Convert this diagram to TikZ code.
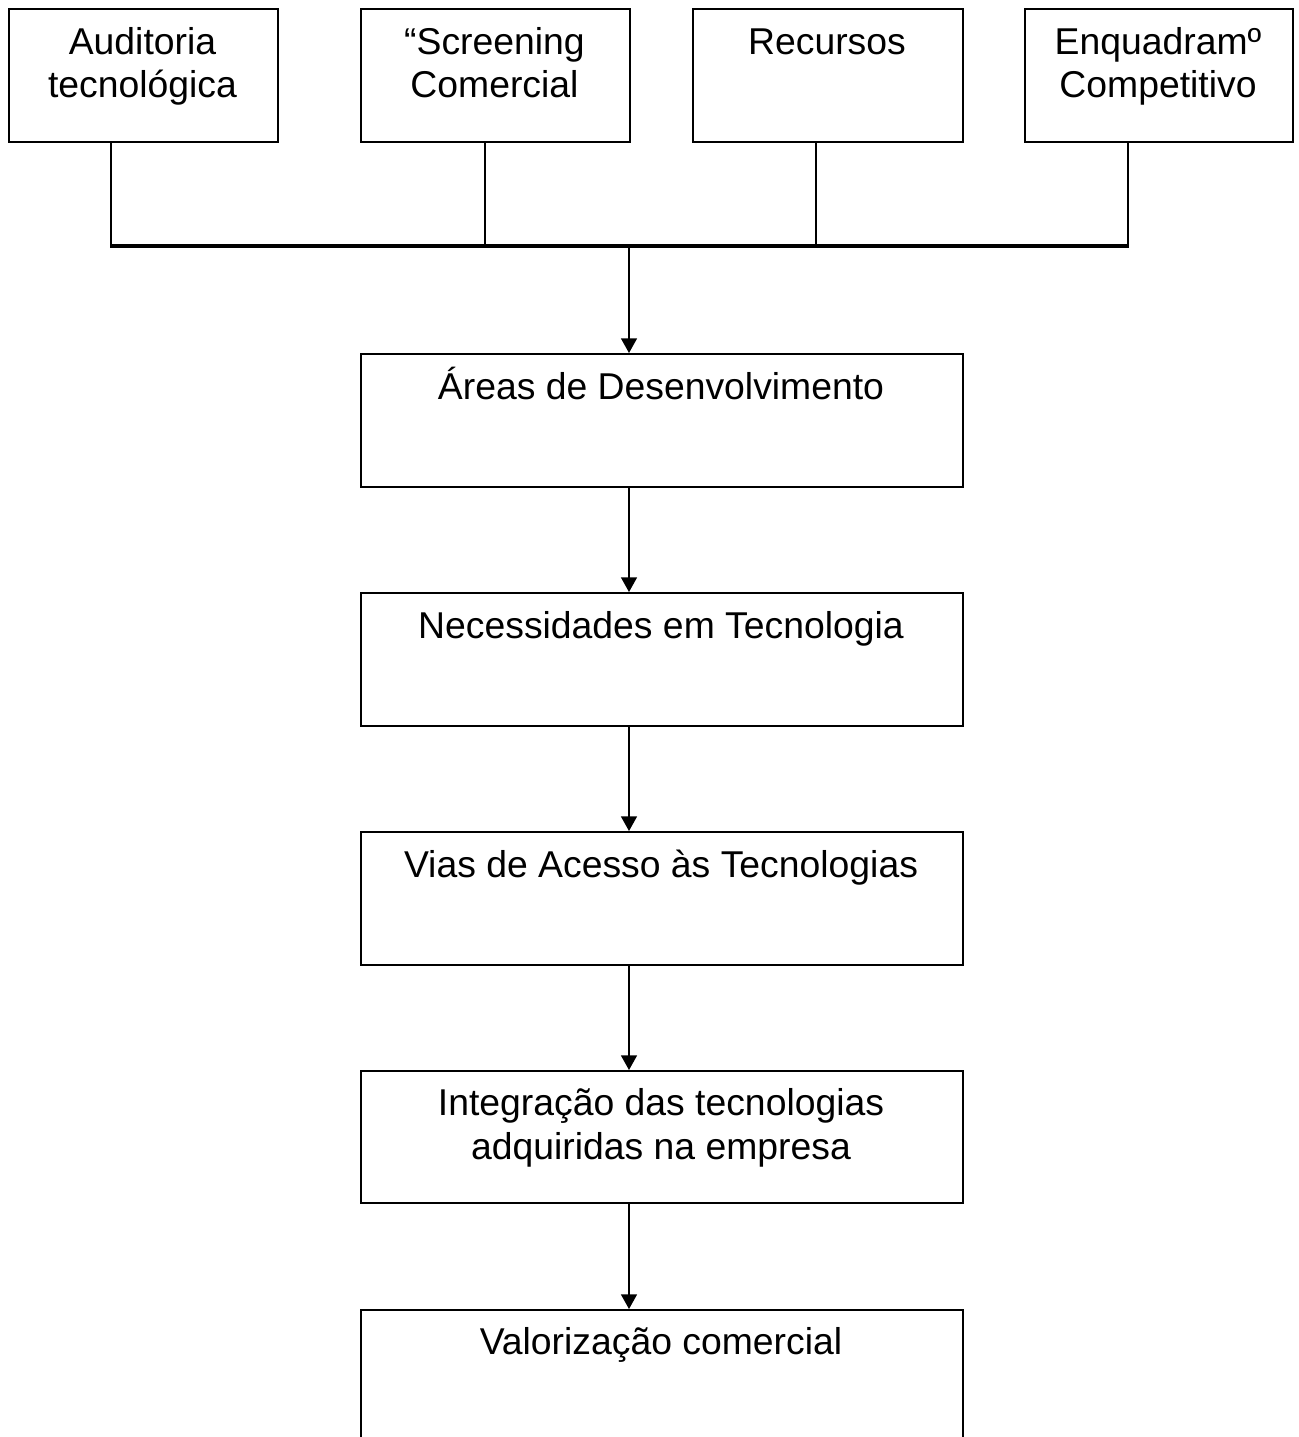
\documentclass[tikz,border=0pt]{standalone}
\usepackage{fontspec}
\setmainfont{Liberation Sans}
\usetikzlibrary{arrows.meta}
\begin{document}
\begin{tikzpicture}[x=0.75pt,y=-0.75pt,
  box/.style={draw,line width=1.3pt,rectangle,inner sep=0pt,anchor=north west},
  txt/.style={anchor=base,inner sep=0pt,font=\fontsize{28}{32.3}\selectfont,align=center},
  conn/.style={line width=1.1pt},
  bus/.style={line width=2.3pt},
  arr/.style={line width=1.1pt,-{Triangle[width=12pt,length=11pt]}}]
\useasboundingbox (0,0) rectangle (1298,1437);
\clip (0,0) rectangle (1298,1437);
% top boxes
\node[box,minimum width=269*0.75pt,minimum height=133*0.75pt] (b1) at (8,8) {};
\node[box,minimum width=269*0.75pt,minimum height=133*0.75pt] (b2) at (360,8) {};
\node[box,minimum width=270*0.75pt,minimum height=133*0.75pt] (b3) at (692,8) {};
\node[box,minimum width=268*0.75pt,minimum height=133*0.75pt] (b4) at (1024,8) {};
\node[txt] (t1) at (142.5,98) {Auditoria\\tecnológica};
\node[txt] (t2) at (494.5,98) {“Screening\\Comercial};
\node[txt] (t3) at (827,55) {Recursos};
\node[txt] (t4) at (1158,98) {Enquadramº\\Competitivo};
% main boxes
\node[box,minimum width=602*0.75pt,minimum height=133*0.75pt] (m1) at (360,353) {};
\node[box,minimum width=602*0.75pt,minimum height=133*0.75pt] (m2) at (360,592) {};
\node[box,minimum width=602*0.75pt,minimum height=133*0.75pt] (m3) at (360,831) {};
\node[box,minimum width=602*0.75pt,minimum height=132*0.75pt] (m4) at (360,1070) {};
\node[box,minimum width=602*0.75pt,minimum height=200*0.75pt] (m5) at (360,1309) {};
\node[txt] (s1) at (661,399) {Áreas de Desenvolvimento};
\node[txt] (s2) at (661,638) {Necessidades em Tecnologia};
\node[txt] (s3) at (661,877) {Vias de Acesso às Tecnologias};
\node[txt] (s4) at (661,1159) {Integração das tecnologias\\adquiridas na empresa};
\node[txt] (s5) at (661,1354) {Valorização comercial};
% bus
\coordinate (bl) at (111,246);
\coordinate (br) at (1128,246);
\coordinate (bm) at (629,246);
\draw[conn] (b1.south -| bl) -- (bl);
\draw[conn] (b2.south -| 485,0) -- (485,246);
\draw[conn] (b3.south -| 816,0) -- (816,246);
\draw[conn] (b4.south -| br) -- (br);
\draw[bus] ([xshift=-0.5pt]bl) -- ([xshift=0.5pt]br);
\draw[arr] (bm) -- (m1.north -| bm);
\draw[arr] (m1.south -| bm) -- (m2.north -| bm);
\draw[arr] (m2.south -| bm) -- (m3.north -| bm);
\draw[arr] (m3.south -| bm) -- (m4.north -| bm);
\draw[arr] (m4.south -| bm) -- (m5.north -| bm);
\end{tikzpicture}
\end{document}
